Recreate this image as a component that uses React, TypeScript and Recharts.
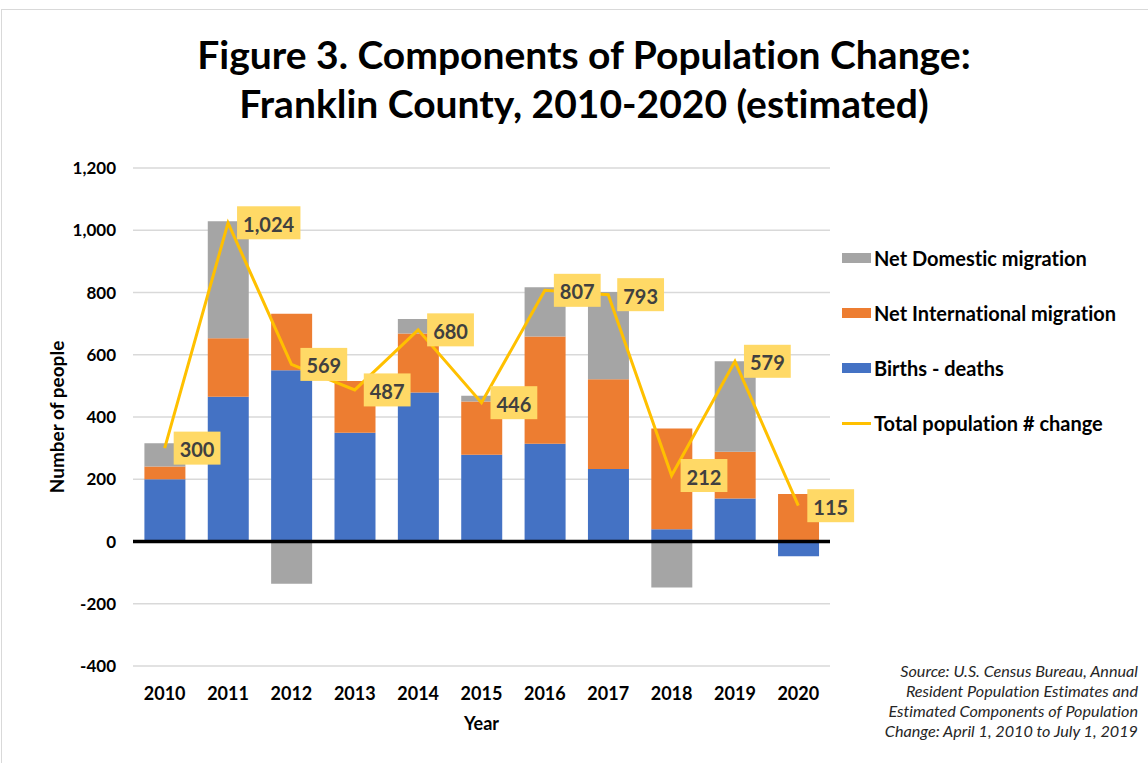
import React from 'react';
import { ComposedChart, Bar, Line, XAxis, YAxis, CartesianGrid, ReferenceLine, LabelList } from 'recharts';

const years = ['2010', '2011', '2012', '2013', '2014', '2015', '2016', '2017', '2018', '2019', '2020'];
const birthsDeaths = [200, 465, 550, 349, 479, 279, 314, 233, 39, 138, -47];
const netInternational = [41, 188, 182, 167, 189, 171, 345, 288, 324, 150, 153];
const netDomestic = [75, 376, -136, 0, 47, 18, 158, 281, -148, 291, 0];
const totalChange = [300, 1024, 569, 487, 680, 446, 807, 793, 212, 579, 115];
const yTicks = [-400, -200, 0, 200, 400, 600, 800, 1000, 1200];

const data = years.map((y, i) => ({
  year: y,
  births: birthsDeaths[i],
  intl: netInternational[i],
  dom: netDomestic[i],
  total: totalChange[i],
}));

const FONT = 'Lato, "Open Sans", sans-serif';
const BLUE = '#4472C4';
const ORANGE = '#ED7D31';
const GRAY = '#A5A5A5';
const YELLOW = '#FFC000';
const LABEL_BG = '#FFD966';

const fmt = (v: number) => v.toLocaleString('en-US');

const TotalLabel = (props: any) => {
  const { x, y, value } = props;
  const s = fmt(Number(value));
  const digits = s.replace(/,/g, '').length;
  const commas = s.length - digits;
  const w = digits * 11.6 + commas * 5 + 12;
  const bx = x + 9;
  return (
    <g>
      <rect x={bx} y={y - 16.5} width={w} height={33} fill={LABEL_BG} />
      <text x={bx + 6} y={y + 1} dominantBaseline="central" fontFamily={FONT} fontWeight={700} fontSize={20} fill="#404040">
        {s}
      </text>
    </g>
  );
};

const legendItems = [
  { name: 'Net Domestic migration', color: GRAY, type: 'bar' },
  { name: 'Net International migration', color: ORANGE, type: 'bar' },
  { name: 'Births - deaths', color: BLUE, type: 'bar' },
  { name: 'Total population # change', color: YELLOW, type: 'line' },
];

const sourceLines = [
  'Source: U.S. Census Bureau, Annual',
  'Resident Population Estimates and',
  'Estimated Components of Population',
  'Change: April 1, 2010 to July 1, 2019',
];

export default function App() {
  return (
    <div style={{ position: 'absolute', left: 0, top: 0, width: 1148, height: 763, background: '#fff', fontFamily: FONT, overflow: 'hidden', fontVariantLigatures: 'none' }}>
      <div style={{ position: 'absolute', left: 1, top: 9, width: 1160, height: 780, border: '1px solid #d9d9d9' }} />
      <div style={{ position: 'absolute', left: 0, top: 30, width: 1168, textAlign: 'center', fontSize: 39, fontWeight: 700, lineHeight: '49px', color: '#000' }}>
        <div>Figure 3. Components of Population Change:</div>
        <div>Franklin County, 2010-2020 (estimated)</div>
      </div>
      <ComposedChart
        width={1148}
        height={763}
        data={data}
        stackOffset="sign"
        barCategoryGap="18%"
        margin={{ top: 168, right: 318, bottom: 37, left: 0 }}
        style={{ position: 'absolute', left: 0, top: 0 }}
      >
        <CartesianGrid vertical={false} stroke="#d9d9d9" strokeWidth={1.3} />
        <XAxis
          dataKey="year"
          axisLine={false}
          tickLine={false}
          height={60}
          tick={{ fontFamily: FONT, fontSize: 18, fontWeight: 700, fill: '#000', dy: 13 }}
          label={{ value: 'Year', position: 'center', dy: 28, style: { fontFamily: FONT, fontSize: 18, fontWeight: 700, fill: '#000' } }}
        />
        <YAxis
          domain={[-400, 1200]}
          ticks={yTicks}
          interval={0}
          width={133}
          axisLine={false}
          tickLine={false}
          tickMargin={11}
          tickFormatter={(v: number) => fmt(v)}
          tick={{ fontFamily: FONT, fontSize: 17, fontWeight: 700, fill: '#000' }}
          label={{ value: 'Number of people', angle: -90, position: 'center', dx: -9, style: { fontFamily: FONT, fontSize: 19, fontWeight: 700, fill: '#000' } }}
        />
        <Bar dataKey="births" stackId="a" fill={BLUE} isAnimationActive={false} />
        <Bar dataKey="intl" stackId="a" fill={ORANGE} isAnimationActive={false} />
        <Bar dataKey="dom" stackId="a" fill={GRAY} isAnimationActive={false} />
        <ReferenceLine y={0} stroke="#000" strokeWidth={3.5} />
        <Line dataKey="total" type="linear" stroke={YELLOW} strokeWidth={3} dot={false} isAnimationActive={false}>
          <LabelList dataKey="total" content={<TotalLabel />} />
        </Line>
      </ComposedChart>
      <div style={{ position: 'absolute', left: 842, top: 244 }}>
        {legendItems.map((it, i) => (
          <div key={it.name} style={{ position: 'absolute', left: 0, top: i * 55, height: 28, display: 'flex', alignItems: 'center', whiteSpace: 'nowrap' }}>
            {it.type === 'bar' ? (
              <div style={{ width: 29, height: 10, background: it.color }} />
            ) : (
              <div style={{ width: 29, height: 3, background: it.color }} />
            )}
            <span style={{ marginLeft: 3, fontSize: 20, fontWeight: 700, color: '#000' }}>{it.name}</span>
          </div>
        ))}
      </div>
      <div style={{ position: 'absolute', right: 10, top: 661, textAlign: 'right', fontStyle: 'italic', fontSize: 16.2, lineHeight: '20px', color: '#262626' }}>
        {sourceLines.map((l) => (
          <div key={l}>{l}</div>
        ))}
      </div>
    </div>
  );
}
